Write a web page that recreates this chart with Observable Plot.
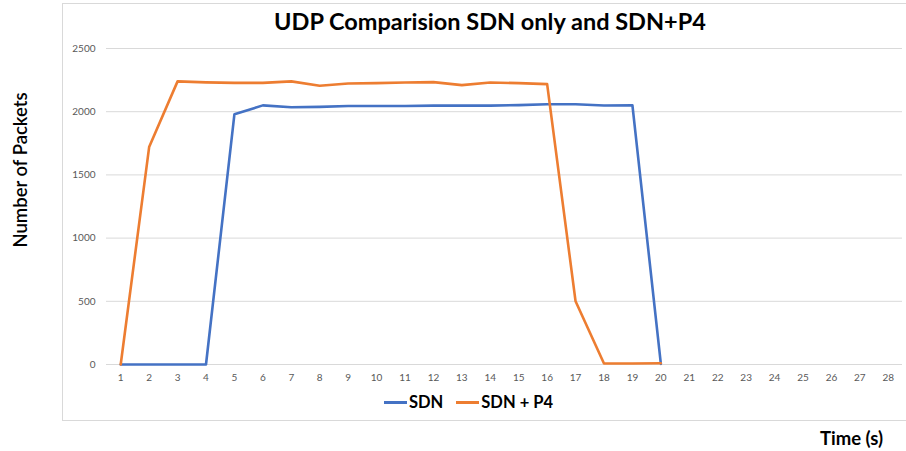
<!DOCTYPE html>
<html><head><meta charset="utf-8">
<script src="https://cdn.jsdelivr.net/npm/d3@7"></script>
<script src="https://cdn.jsdelivr.net/npm/@observablehq/plot@0.6"></script>
<style>
body{margin:0;background:#fff;}
#wrap{position:relative;width:906px;height:451px;overflow:hidden;font-family:Lato,"Open Sans",sans-serif;}
#border{position:absolute;left:62px;top:3px;width:900px;height:418px;border:1px solid #d9d9d9;box-sizing:border-box;}
#title{position:absolute;left:62px;width:856px;top:7px;text-align:center;font-weight:700;font-size:23.5px;color:#000;}
#ylab{position:absolute;left:20px;top:170px;transform:translate(-50%,-50%) rotate(-90deg);font-size:18.5px;font-weight:600;white-space:nowrap;color:#000;}
#xlab{position:absolute;left:820px;top:427px;font-size:18.5px;font-weight:700;color:#000;white-space:nowrap;}
#legend{position:absolute;top:392px;left:384px;display:flex;align-items:center;font-size:16.5px;font-weight:700;}
.sw{display:inline-block;width:23px;height:3px;margin-right:2px;}
svg{position:absolute;left:0;top:0;}
</style></head>
<body><div id="wrap"><div id="border"></div><div id="chart"></div>
<div id="title"></div><div id="ylab"></div><div id="xlab"></div><div id="legend"></div></div>
<script>
const titleText = "UDP Comparision SDN only and SDN+P4";
const yLabel = "Number of Packets";
const xLabel = "Time (s)";
const seriesNames = ["SDN", "SDN + P4"];
const colors = ["#4472C4", "#ED7D31"];
const times = d3.range(1, 29);
const sdn = [0,0,0,0,1980,2050,2035,2038,2045,2045,2045,2048,2048,2048,2052,2059,2059,2049,2050,5];
const sdnP4 = [0,1720,2240,2232,2228,2228,2240,2205,2223,2226,2231,2234,2210,2231,2226,2218,500,8,8,10];
const yTicks = [0,500,1000,1500,2000,2500];

const data = [];
sdn.forEach((v,i)=>data.push({t:times[i], v, s:seriesNames[0]}));
sdnP4.forEach((v,i)=>data.push({t:times[i], v, s:seriesNames[1]}));

const chart = Plot.plot({
  width: 906, height: 451,
  marginLeft: 106, marginRight: 4, marginTop: 48, marginBottom: 87,
  style: {fontFamily: "Lato, 'Open Sans', sans-serif", fontSize: "10px", background: "transparent"},
  x: {domain: [0.5, 28.5], label: null},
  y: {domain: [0, 2500], label: null},
  color: {domain: seriesNames, range: colors},
  marks: [
    Plot.gridY(yTicks, {stroke: "#d9d9d9", strokeOpacity: 1, strokeWidth: 1}),
    Plot.axisX({ticks: times, tickFormat: d=>String(d), tickSize: 0, tickPadding: 9, fill: "#595959", label: null}),
    Plot.axisY({ticks: yTicks, tickFormat: d=>String(d), tickSize: 0, tickPadding: 11, fill: "#595959", label: null}),
    Plot.line(data, {x: "t", y: "v", z: "s", stroke: "s", strokeWidth: 2.6, strokeLinejoin: "round"})
  ]
});
document.getElementById("chart").appendChild(chart);
document.getElementById("title").textContent = titleText;
document.getElementById("ylab").textContent = yLabel;
document.getElementById("xlab").textContent = xLabel;
const lg = document.getElementById("legend");
seriesNames.forEach((n,i)=>{
  const item = document.createElement("span");
  item.style.display="inline-flex"; item.style.alignItems="center"; item.style.marginRight="13px";
  item.innerHTML = `<span class="sw" style="background:${colors[i]}"></span><span>${n}</span>`;
  lg.appendChild(item);
});
</script></body></html>
